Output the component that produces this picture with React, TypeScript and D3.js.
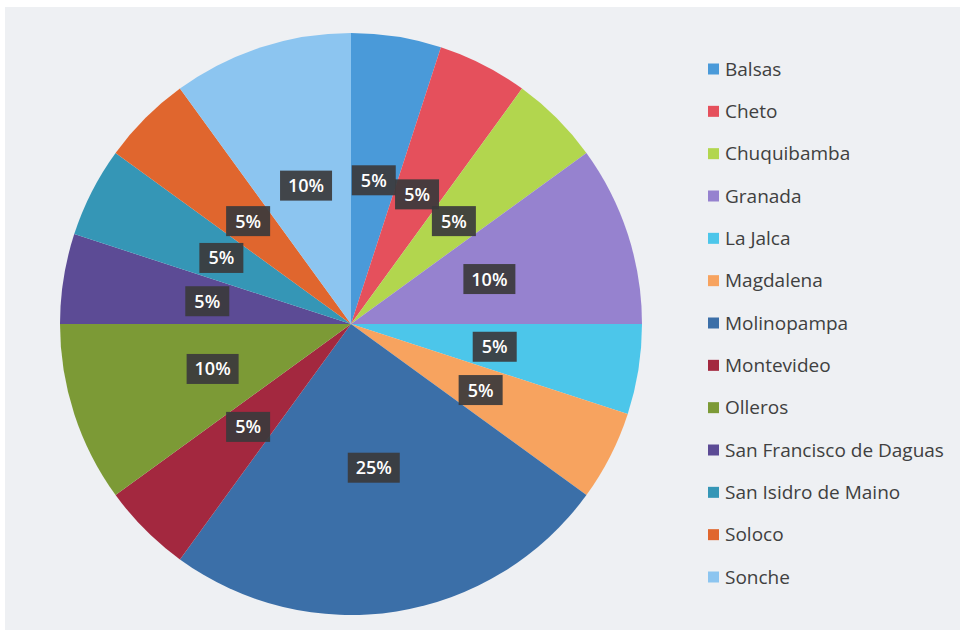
import { useEffect, useRef } from "react";
import * as d3 from "d3";

// Datos del gráfico
const distritos = [
  "Balsas",
  "Cheto",
  "Chuquibamba",
  "Granada",
  "La Jalca",
  "Magdalena",
  "Molinopampa",
  "Montevideo",
  "Olleros",
  "San Francisco de Daguas",
  "San Isidro de Maino",
  "Soloco",
  "Sonche"
];
const valores = [1, 1, 1, 2, 1, 1, 5, 1, 2, 1, 1, 1, 2];
const colores = [
  "#4a9ad9",
  "#e5505c",
  "#b2d64e",
  "#9682cf",
  "#4cc6ea",
  "#f7a35f",
  "#3b6fa8",
  "#a3283f",
  "#7c9a36",
  "#5c4b95",
  "#3596b6",
  "#e0662e",
  "#8cc5f0"
];

const App = () => {
  const svgRef = useRef<SVGSVGElement>(null);

  useEffect(() => {
    if (!svgRef.current) return;
    const width = 966;
    const height = 636;
    const svg = d3.select(svgRef.current);
    svg.selectAll("*").remove();

    // Fondo
    svg.append("rect").attr("width", width).attr("height", height).attr("fill", "#ffffff");
    svg
      .append("rect")
      .attr("x", 5)
      .attr("y", 7)
      .attr("width", 955)
      .attr("height", 623)
      .attr("fill", "#eef0f3");

    const cx = 351;
    const cy = 324;
    const radius = 291;
    const total = d3.sum(valores);

    const pie = d3
      .pie<number>()
      .sort(null)
      .value((d) => d);
    const arcs = pie(valores);
    const arc = d3.arc<d3.PieArcDatum<number>>().innerRadius(0).outerRadius(radius);
    const labelArc = d3
      .arc<d3.PieArcDatum<number>>()
      .innerRadius(radius * 0.5)
      .outerRadius(radius * 0.5);

    const g = svg.append("g").attr("transform", `translate(${cx},${cy})`);

    g.selectAll("path.slice")
      .data(arcs)
      .enter()
      .append("path")
      .attr("class", "slice")
      .attr("d", arc)
      .attr("fill", (_, i) => colores[i]);

    // Etiquetas de porcentaje
    const etiquetas = g
      .selectAll("g.lbl")
      .data(arcs)
      .enter()
      .append("g")
      .attr("class", "lbl")
      .attr("transform", (d) => {
        const [x, y] = labelArc.centroid(d);
        return `translate(${x},${y})`;
      });

    etiquetas
      .append("rect")
      .attr("x", (d) => (d.data >= 2 ? -26 : -22))
      .attr("y", -15)
      .attr("width", (d) => (d.data >= 2 ? 52 : 44))
      .attr("height", 30)
      .attr("fill", "#3b3a3c")
      .attr("opacity", 0.92);

    etiquetas
      .append("text")
      .attr("text-anchor", "middle")
      .attr("dy", "0.36em")
      .style("font-family", "'Open Sans', 'Noto Sans', sans-serif")
      .style("font-size", "18px")
      .style("font-weight", "600")
      .attr("fill", "#ffffff")
      .text((d) => `${Math.round((d.data / total) * 100)}%`);

    // Leyenda
    const legendY = d3
      .scalePoint<string>()
      .domain(distritos)
      .range([69, 577]);

    const legenda = svg.append("g");
    distritos.forEach((nombre, i) => {
      const y = legendY(nombre) ?? 0;
      legenda
        .append("rect")
        .attr("x", 708)
        .attr("y", y - 5.5)
        .attr("width", 11)
        .attr("height", 11)
        .attr("fill", colores[i]);
      legenda
        .append("text")
        .attr("x", 725)
        .attr("y", y)
        .attr("dy", "0.35em")
        .style("font-family", "'Open Sans', 'Noto Sans', sans-serif")
        .style("font-size", "19px")
        .attr("fill", "#404040")
        .text(nombre);
    });
  }, []);

  return (
    <div style={{ position: "absolute", left: 0, top: 0 }}>
      <svg ref={svgRef} width={966} height={636} style={{ display: "block" }} />
    </div>
  );
};

export default App;
